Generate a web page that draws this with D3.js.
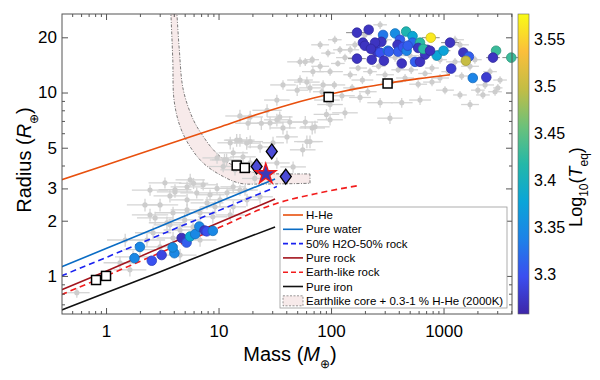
<!DOCTYPE html>
<html>
<head>
<meta charset="utf-8">
<script src="https://cdn.jsdelivr.net/npm/d3@7"></script>
<style>
  body { margin: 0; background: #fff; }
  svg { font-family: "Liberation Sans", Arial, Helvetica, sans-serif; }
</style>
</head>
<body>
<div id="chart"></div>
<script>
// ---- data (mass in Earth masses, radius in Earth radii) ----
const hheMass = [0.4, 1, 3, 10, 20, 40, 70, 120, 200, 313, 600, 1142]
const hheRadius = [3.34, 4.03, 5.05, 6.45, 7.45, 8.5, 9.33, 10.07, 10.7, 11.2, 11.9, 12.5]

const waterMass = [0.4, 1, 3, 10, 31.8]
const waterRadius = [1.12, 1.41, 1.86, 2.53, 3.38]

const halfWaterMass = [0.4, 1, 3, 10, 33]
const halfWaterRadius = [1.0, 1.26, 1.67, 2.27, 3.07]

const rockMass = [0.4, 1, 3, 10, 31.8]
const rockRadius = [0.84, 1.06, 1.42, 1.95, 2.63]

const earthLikeMass = [0.4, 1, 3, 10, 31.8, 80, 170]
const earthLikeRadius = [0.79, 1.0, 1.335, 1.83, 2.47, 2.84, 3.1]

const ironMass = [0.4, 1, 3, 10, 31.8]
const ironRadius = [0.65, 0.81, 1.05, 1.41, 1.85]

// Earth-like core + 0.3-1 % H-He envelope band (lower and upper edge)
const bandLower = [[3.76, 28], [3.92, 15.1], [4.02, 9.12], [4.55, 6.53], [5.58, 5.07], [7.33, 4.12],
  [10.3, 3.56], [15.5, 3.2], [23.4, 3.17], [65, 3.2]]
const bandUpper = [[4.25, 28], [4.48, 17.1], [4.86, 10.35], [5.97, 7.1], [7.33, 5.75], [9.0, 4.87],
  [11.8, 4.2], [16.6, 3.79], [23.4, 3.63], [37.7, 3.6], [65, 3.6]]

// known planets: [mass, radius, fractional mass error, fractional radius error]
const grayPlanets = [
  [59, 14.7, .2, .05], [68, 15.1, .15, .05], [80, 13.9, .2, .06], [94, 16.4, .15, .05], [98, 13.0, .3, .05],
  [115, 14.4, .15, .04], [133, 15.5, .2, .05], [148, 12.5, .15, .05], [174, 13.6, .2, .04], [190, 11.7, .25, .05],
  [222, 13.0, .15, .05], [265, 13.9, .15, .04], [302, 12.5, .2, .05], [347, 11.4, .25, .05], [395, 13.3, .15, .04],
  [455, 12.0, .2, .05], [516, 13.3, .15, .05], [595, 11.1, .2, .05], [685, 12.7, .15, .04], [790, 13.6, .15, .05],
  [931, 12.0, .2, .05], [1100, 13.0, .15, .05], [1265, 14.7, .2, .05], [1450, 12.3, .15, .05], [1720, 13.9, .2, .05],
  [2020, 10.3, .15, .05], [2340, 11.0, .2, .05], [2590, 13.0, .15, .05], [3180, 11.7, .15, .05], [3040, 10.6, .1, .05],
  [53, 11.7, .3, .06], [65, 10.6, .25, .06], [83, 10.1, .2, .05], [107, 11.0, .25, .05], [125, 9.6, .3, .06],
  [154, 10.6, .2, .05], [181, 9.4, .25, .06], [212, 10.1, .2, .05], [273, 8.8, .3, .06], [425, 8.8, .25, .06],
  [790, 11.4, .2, .05], [2240, 9.7, .15, .05], [133, 7.75, .3, .07], [92, 9.1, .3, .07], [72, 6.5, .35, .08],
  [61, 5.4, .3, .08], [120, 17.1, .15, .05], [163, 18.2, .2, .05], [302, 19.4, .15, .05], [371, 15.5, .15, .05],
  [504, 15.9, .2, .05], [931, 15.1, .15, .05], [1265, 19.4, .2, .05],
  [80, 18.2, .2, .05], [108, 19.4, .15, .05], [148, 17.1, .2, .05], [200, 20.6, .15, .05], [273, 23.4, .15, .05],
  [1400, 18.2, .2, .05], [1900, 15.1, .15, .05], [1030, 10.3, .2, .05], [1400, 9.7, .15, .05], [1720, 8.6, .2, .06],
  [2870, 10.1, .15, .05], [98, 7.1, .3, .07], [334, 7.25, .3, .07], [618, 9.1, .25, .06],
  [53, 14.7, .3, .06], [69, 13.0, .25, .06], [61, 11.4, .3, .07], [37.4, 11.0, .3, .06], [50, 10.3, .25, .07],
  [33, 9.1, .3, .07], [15.5, 7.45, .35, .08], [19.1, 7.36, .3, .08], [27, 8.0, .35, .08], [35, 7.36, .3, .07],
  [37.4, 6.41, .3, .08], [40.6, 5.73, .25, .08], [28.7, 6.83, .3, .08], [68, 6.41, .3, .08], [15.5, 5.5, .35, .08],
  [12.7, 5.32, .3, .08], [19.1, 5.4, .3, .08], [23.4, 5.05, .3, .07], [30.5, 5.32, .25, .08], [13.5, 4.69, .35, .07],
  [16.5, 4.46, .3, .07], [9.7, 4.4, .35, .07], [19.1, 4.13, .3, .07], [46, 3.93, .3, .07], [56, 4.87, .3, .08],
  [85, 11.0, .25, .06], [98, 8.6, .3, .07], [91, 7.6, .3, .07], [59, 6.9, .3, .08], [65, 5.4, .3, .08],
  [43, 6.9, .3, .08], [33, 7.1, .3, .08], [24, 6.8, .35, .08], [18.3, 6.8, .3, .08], [14.5, 5.5, .3, .08],
  [17.8, 5.3, .3, .08], [11.8, 4.3, .35, .08], [11, 3.95, .35, .07], [33, 4.13, .3, .07],
  [14, 3.79, .35, .07], [11.3, 4.29, .35, .08], [21, 3.4, .3, .07],
  [5.25, 3.06, .4, .07], [7.3, 3.14, .35, .07], [9.7, 3.0, .4, .07], [6.4, 2.84, .4, .07], [8.4, 2.77, .35, .07],
  [11.9, 2.84, .35, .07], [13.5, 3.06, .3, .07], [5.6, 3.34, .35, .08], [15.5, 2.94, .3, .07], [5.25, 2.6, .4, .08],
  [7.9, 2.5, .4, .08], [10.3, 2.6, .35, .08], [13.5, 2.38, .3, .08], [17.9, 2.6, .3, .08], [23.4, 2.7, .3, .08],
  [3.94, 2.21, .45, .08], [5.25, 2.29, .4, .08], [6.85, 2.21, .4, .08], [8.9, 2.1, .35, .08], [3.48, 1.95, .45, .08],
  [4.55, 1.78, .4, .08], [5.93, 1.85, .4, .08], [2.62, 1.72, .45, .08], [3.94, 1.61, .4, .08], [2.31, 1.57, .45, .08],
  [3.02, 1.44, .4, .08], [1.74, 1.27, .45, .08], [2.0, 1.39, .4, .08], [1.33, 1.18, .4, .08], [3.02, 2.44, .45, .08],
  [2.46, 2.15, .45, .08], [3.7, 2.73, .4, .08], [0.55, 0.81, .3, .06], [4.1, 2.95, .4, .07], [6.0, 3.2, .35, .07],
  [2.46, 2.94, .45, .07], [3.34, 3.22, .4, .07], [4.1, 2.87, .45, .07], [2.22, 2.44, .45, .08], [2.73, 2.07, .45, .08],
  [3.7, 1.9, .4, .08], [5.0, 2.02, .4, .08], [6.85, 1.57, .4, .08], [9.3, 2.38, .35, .08], [12.7, 2.15, .35, .08],
  [17.2, 2.94, .3, .07], [1.63, 1.08, .4, .08], [1.48, 1.57, .45, .08], [4.55, 1.30, .4, .08]
]

// sample planets coloured by log10(Teq): [mass, radius, logTeq, fractional mass error]
const hotPlanets = [
  [170, 21.2, 3.272, .25], [216, 22.0, 3.272, 0], [290, 20.6, 3.33, 0], [371, 21.0, 3.35, 0], [465, 21.5, 3.41, 0],
  [530, 20.3, 3.38, 0], [770, 19.9, 3.565, .2], [1142, 18.7, 3.272, .2], [192, 18.7, 3.272, 0], [200, 18.0, 3.272, 0],
  [246, 18.0, 3.30, 0], [280, 18.9, 3.272, 0], [410, 19.4, 3.31, 0], [530, 18.7, 3.32, 0], [618, 18.7, 3.42, 0],
  [255, 16.7, 3.272, 0], [273, 16.5, 3.30, 0], [320, 16.9, 3.34, 0], [390, 18.2, 3.272, 0], [395, 16.7, 3.31, 0],
  [437, 17.7, 3.30, 0], [470, 16.9, 3.34, 0], [480, 18.0, 3.31, 0], [595, 17.5, 3.272, 0], [700, 16.7, 3.272, 0],
  [715, 17.1, 3.28, 0], [685, 16.1, 3.272, 0], [660, 17.3, 3.42, 0], [170, 15.3, 3.272, .2], [230, 15.1, 3.272, 0],
  [295, 14.9, 3.272, 0], [425, 14.4, 3.272, 0], [558, 14.7, 3.31, 0], [618, 14.7, 3.272, 0], [870, 15.9, 3.38, 0],
  [1000, 16.9, 3.375, .15], [759, 16.9, 3.272, 0], [1500, 16.5, 3.272, 0], [1680, 15.7, 3.31, 0], [1580, 14.9, 3.50, 0],
  [1170, 13.5, 3.28, 0], [2930, 16.9, 3.43, 0], [2750, 15.5, 3.272, .15], [4000, 15.5, 3.43, .2], [1820, 12.0, 3.34, 0],
  [2400, 12.1, 3.28, 0], [246, 18.7, 3.272, 0], [226, 17.3, 3.272, 0], [327, 16.7, 3.31, 0]
]
const smallPlanets = [
  [2.0, 1.44, 3.345], [1.79, 1.25, 3.345], [2.55, 1.21, 3.30], [3.12, 1.30, 3.29], [4.05, 1.33, 3.345],
  [3.91, 1.43, 3.35], [4.7, 1.61, 3.27], [5.2, 1.52, 3.31], [5.58, 1.64, 3.38], [6.2, 1.69, 3.345],
  [6.75, 1.86, 3.345], [7.5, 1.77, 3.275], [7.85, 1.75, 3.30], [8.9, 1.76, 3.345]
]

const diamondPlanets = [[21.8, 3.95], [29.7, 4.77], [39.6, 3.48]]
const starPlanet = [[26.3, 3.59]]
// Venus, Earth, Uranus, Neptune, Saturn, Jupiter
const solarSystem = [[0.815, 0.95], [1, 1], [14.5, 4.0], [17.1, 3.88], [95.2, 9.45], [318, 11.2]]

const xMajorTicks = [1, 10, 100, 1000]
const yMajorTicks = [1, 2, 3, 5, 10, 20]
const colorTicks = [3.3, 3.35, 3.4, 3.45, 3.5, 3.55]
const tempExtent = [3.258, 3.577]
const parula = ["#3e26a8", "#3b4ef0", "#1d82e8", "#0aa5d8", "#24b8a8", "#6cc17a", "#c3bd45", "#fbbf3a", "#f9fb15"]

// ---- set up ----
const width = 600
const height = 380
const plot = { left: 62, right: 512, top: 14, bottom: 314 }

const svg = d3.select("#chart").append("svg").attr("width", width).attr("height", height)

const x = d3.scaleLog().domain([0.406, 4060]).range([plot.left, plot.right])
const y = d3.scaleLog().domain([0.62, 26.8]).range([plot.bottom, plot.top])
const color = d3
  .scaleLinear()
  .domain(parula.map((d, i) => tempExtent[0] + (i / (parula.length - 1)) * (tempExtent[1] - tempExtent[0])))
  .range(parula)
  .clamp(true)

svg
  .append("clipPath")
  .attr("id", "plot-clip")
  .append("rect")
  .attr("x", plot.left)
  .attr("y", plot.top)
  .attr("width", plot.right - plot.left)
  .attr("height", plot.bottom - plot.top)

const g = svg.append("g").attr("clip-path", "url(#plot-clip)")

// ---- band ----
const bandLine = d3
  .line()
  .x((d) => x(d[0]))
  .y((d) => y(d[1]))
  .curve(d3.curveCatmullRom)

const upperRev = bandUpper.slice().reverse()
g.append("path")
  .attr("d", bandLine(bandLower) + "L" + bandLine(upperRev).slice(1) + "Z")
  .attr("fill", "#f7eaea")
  .attr("stroke", "none")

const bandEdges = [bandLower, bandUpper, [bandLower[bandLower.length - 1], bandUpper[bandUpper.length - 1]]]
g.selectAll(".band-edge")
  .data(bandEdges)
  .enter()
  .append("path")
  .attr("class", "band-edge")
  .attr("d", bandLine)
  .attr("fill", "none")
  .attr("stroke", "#444")
  .attr("stroke-width", 0.7)
  .attr("stroke-dasharray", "3,1.5,1,1.5")

// ---- gray planets with error bars ----
const grayG = g.append("g")
grayG
  .selectAll(".xerr")
  .data(grayPlanets)
  .enter()
  .append("line")
  .attr("x1", (d) => x(d[0] / (1 + d[2])))
  .attr("x2", (d) => x(d[0] * (1 + d[2])))
  .attr("y1", (d) => y(d[1]))
  .attr("y2", (d) => y(d[1]))
  .attr("stroke", "#d4d4d4")
  .attr("stroke-width", 1.3)
grayG
  .selectAll(".yerr")
  .data(grayPlanets)
  .enter()
  .append("line")
  .attr("x1", (d) => x(d[0]))
  .attr("x2", (d) => x(d[0]))
  .attr("y1", (d) => y(d[1] * (1 - d[3])))
  .attr("y2", (d) => y(d[1] * (1 + d[3])))
  .attr("stroke", "#d4d4d4")
  .attr("stroke-width", 1.3)
grayG
  .selectAll("circle")
  .data(grayPlanets)
  .enter()
  .append("circle")
  .attr("cx", (d) => x(d[0]))
  .attr("cy", (d) => y(d[1]))
  .attr("r", 2.6)
  .attr("fill", "#cdcdcd")

// ---- model curves ----
const curves = [
  { name: "H-He", mass: hheMass, radius: hheRadius, color: "#e8500e", dash: null },
  { name: "Pure water", mass: waterMass, radius: waterRadius, color: "#0a6cc4", dash: null },
  { name: "50% H2O-50% rock", mass: halfWaterMass, radius: halfWaterRadius, color: "#1a22f0", dash: "6,4" },
  { name: "Pure rock", mass: rockMass, radius: rockRadius, color: "#a3141c", dash: null },
  { name: "Earth-like rock", mass: earthLikeMass, radius: earthLikeRadius, color: "#f21c1c", dash: "6,4" },
  { name: "Pure iron", mass: ironMass, radius: ironRadius, color: "#111", dash: null },
]

const curveLine = d3
  .line()
  .x((d) => x(d[0]))
  .y((d) => y(d[1]))
  .curve(d3.curveMonotoneX)

g.selectAll(".model")
  .data(curves)
  .enter()
  .append("path")
  .attr("class", "model")
  .attr("d", (c) => curveLine(c.mass.map((m, i) => [m, c.radius[i]])))
  .attr("fill", "none")
  .attr("stroke", (c) => c.color)
  .attr("stroke-width", 1.6)
  .attr("stroke-dasharray", (c) => c.dash)

// ---- solar system squares ----
g.selectAll(".ss")
  .data(solarSystem)
  .enter()
  .append("rect")
  .attr("x", (d) => x(d[0]) - 4.5)
  .attr("y", (d) => y(d[1]) - 4.5)
  .attr("width", 9)
  .attr("height", 9)
  .attr("fill", "#fff")
  .attr("stroke", "#000")
  .attr("stroke-width", 1.5)

// ---- coloured planets ----
const colG = svg.append("g")
colG
  .selectAll(".cerr")
  .data(hotPlanets.filter((d) => d[3] > 0))
  .enter()
  .append("line")
  .attr("x1", (d) => x(d[0] / (1 + d[3])))
  .attr("x2", (d) => x(d[0] * (1 + d[3])))
  .attr("y1", (d) => y(d[1]))
  .attr("y2", (d) => y(d[1]))
  .attr("stroke", "#888")
  .attr("stroke-width", 1)

colG
  .selectAll(".cdot")
  .data(hotPlanets.concat(smallPlanets))
  .enter()
  .append("circle")
  .attr("cx", (d) => x(d[0]))
  .attr("cy", (d) => y(d[1]))
  .attr("r", 4.8)
  .attr("fill", (d) => color(d[2]))
  .attr("stroke", (d) => d3.color(color(d[2])).darker(0.6))
  .attr("stroke-width", 0.8)

// diamonds
colG
  .selectAll(".diamond")
  .data(diamondPlanets)
  .enter()
  .append("path")
  .attr("transform", (d) => `translate(${x(d[0])},${y(d[1])})`)
  .attr("d", "M0,-7.5L5.5,0L0,7.5L-5.5,0Z")
  .attr("fill", "#4b4bd6")
  .attr("stroke", "#000")
  .attr("stroke-width", 1.3)

// star
colG
  .selectAll(".star")
  .data(starPlanet)
  .enter()
  .append("path")
  .attr("transform", (d) => `translate(${x(d[0])},${y(d[1])})`)
  .attr("d", d3.symbol(d3.symbolStar, 130)())
  .attr("fill", "#3a3ab8")
  .attr("stroke", "#f01818")
  .attr("stroke-width", 1.4)

// ---- axes ----
const xMinor = x.ticks().filter((t) => !xMajorTicks.includes(t))
const yMinor = y.ticks().filter((t) => !yMajorTicks.includes(t))

function styleAxis(sel) {
  sel.select(".domain").remove()
  sel.selectAll("line").attr("stroke", "#555")
  sel.selectAll("text").attr("fill", "#000").attr("font-size", 17)
}

svg
  .append("g")
  .attr("transform", `translate(0,${plot.bottom})`)
  .call(d3.axisBottom(x).tickValues(xMajorTicks).tickSize(-6).tickPadding(11).tickFormat(d3.format("d")))
  .call(styleAxis)
svg
  .append("g")
  .attr("transform", `translate(0,${plot.bottom})`)
  .call(d3.axisBottom(x).tickValues(xMinor).tickSize(-3).tickFormat(""))
  .call(styleAxis)
svg
  .append("g")
  .attr("transform", `translate(0,${plot.top})`)
  .call(d3.axisTop(x).tickValues(xMajorTicks).tickSize(-6).tickFormat(""))
  .call(styleAxis)
svg
  .append("g")
  .attr("transform", `translate(0,${plot.top})`)
  .call(d3.axisTop(x).tickValues(xMinor).tickSize(-3).tickFormat(""))
  .call(styleAxis)

svg
  .append("g")
  .attr("transform", `translate(${plot.left},0)`)
  .call(d3.axisLeft(y).tickValues(yMajorTicks).tickSize(-6).tickPadding(5).tickFormat(d3.format("d")))
  .call(styleAxis)
svg
  .append("g")
  .attr("transform", `translate(${plot.left},0)`)
  .call(d3.axisLeft(y).tickValues(yMinor).tickSize(-3).tickFormat(""))
  .call(styleAxis)
svg
  .append("g")
  .attr("transform", `translate(${plot.right},0)`)
  .call(d3.axisRight(y).tickValues(yMajorTicks).tickSize(-6).tickFormat(""))
  .call(styleAxis)
svg
  .append("g")
  .attr("transform", `translate(${plot.right},0)`)
  .call(d3.axisRight(y).tickValues(yMinor).tickSize(-3).tickFormat(""))
  .call(styleAxis)

svg
  .append("rect")
  .attr("x", plot.left)
  .attr("y", plot.top)
  .attr("width", plot.right - plot.left)
  .attr("height", plot.bottom - plot.top)
  .attr("fill", "none")
  .attr("stroke", "#555")
  .attr("stroke-width", 1)

// axis titles
const xTitle = svg
  .append("text")
  .attr("x", 290)
  .attr("y", 361)
  .attr("text-anchor", "middle")
  .attr("font-size", 20)
xTitle.append("tspan").text("Mass (")
xTitle.append("tspan").attr("font-style", "italic").text("M")
xTitle.append("tspan").attr("font-size", 12).attr("dy", 7).text("⊕")
xTitle.append("tspan").attr("dy", -7).text(")")

const yTitle = svg
  .append("text")
  .attr("transform", "translate(31,160) rotate(-90)")
  .attr("text-anchor", "middle")
  .attr("font-size", 20)
yTitle.append("tspan").text("Radius (")
yTitle.append("tspan").attr("font-style", "italic").text("R")
yTitle.append("tspan").attr("font-size", 12).attr("dy", 7).text("⊕")
yTitle.append("tspan").attr("dy", -7).text(")")

// ---- colour bar ----
const cbar = { x: 518, w: 11 }
const cScale = d3.scaleLinear().domain(tempExtent).range([plot.bottom, plot.top])
const grad = svg
  .append("defs")
  .append("linearGradient")
  .attr("id", "parula")
  .attr("x1", 0)
  .attr("y1", 1)
  .attr("x2", 0)
  .attr("y2", 0)
grad
  .selectAll("stop")
  .data(parula)
  .enter()
  .append("stop")
  .attr("offset", (d, i) => i / (parula.length - 1))
  .attr("stop-color", (d) => d)

svg
  .append("rect")
  .attr("x", cbar.x)
  .attr("y", plot.top)
  .attr("width", cbar.w)
  .attr("height", plot.bottom - plot.top)
  .attr("fill", "url(#parula)")
  .attr("stroke", "#666")
  .attr("stroke-width", 0.6)

svg
  .append("g")
  .attr("transform", `translate(${cbar.x + cbar.w},0)`)
  .call(d3.axisRight(cScale).tickValues(colorTicks).tickSize(0).tickPadding(5).tickFormat((d) => String(+d.toFixed(2))))
  .call((sel) => {
    sel.select(".domain").remove()
    sel.selectAll("text").attr("font-size", 16).attr("fill", "#000")
  })

const cTitle = svg
  .append("text")
  .attr("transform", "translate(582,187) rotate(-90)")
  .attr("text-anchor", "middle")
  .attr("font-size", 18)
cTitle.append("tspan").text("Log")
cTitle.append("tspan").attr("font-size", 12).attr("dy", 6).text("10")
cTitle.append("tspan").attr("dy", -6).text("(")
cTitle.append("tspan").attr("font-style", "italic").text("T")
cTitle.append("tspan").attr("font-size", 12).attr("dy", 6).text("eq")
cTitle.append("tspan").attr("dy", -6).text(")")

// ---- legend ----
const legend = svg.append("g").attr("transform", "translate(280,207)")
legend
  .append("rect")
  .attr("width", 227)
  .attr("height", 101)
  .attr("fill", "#fff")
  .attr("stroke", "#999")
  .attr("stroke-width", 0.8)

const legendItems = curves.concat([{ name: "Earthlike core + 0.3-1 % H-He (2000K)", band: true }])
const item = legend
  .selectAll(".item")
  .data(legendItems)
  .enter()
  .append("g")
  .attr("transform", (d, i) => `translate(0,${8 + i * 14.3})`)

item
  .filter((d) => !d.band)
  .append("line")
  .attr("x1", 3)
  .attr("x2", 23)
  .attr("stroke", (d) => d.color)
  .attr("stroke-width", 1.6)
  .attr("stroke-dasharray", (d) => (d.dash ? "5,3" : null))

item
  .filter((d) => d.band)
  .append("rect")
  .attr("x", 3)
  .attr("y", -5)
  .attr("width", 20)
  .attr("height", 10)
  .attr("fill", "#f7eaea")
  .attr("stroke", "#555")
  .attr("stroke-width", 0.6)
  .attr("stroke-dasharray", "2,1.5")

item
  .append("text")
  .attr("x", 26)
  .attr("dy", "0.36em")
  .attr("font-size", 11.5)
  .text((d) => d.name)
</script>
</body>
</html>
